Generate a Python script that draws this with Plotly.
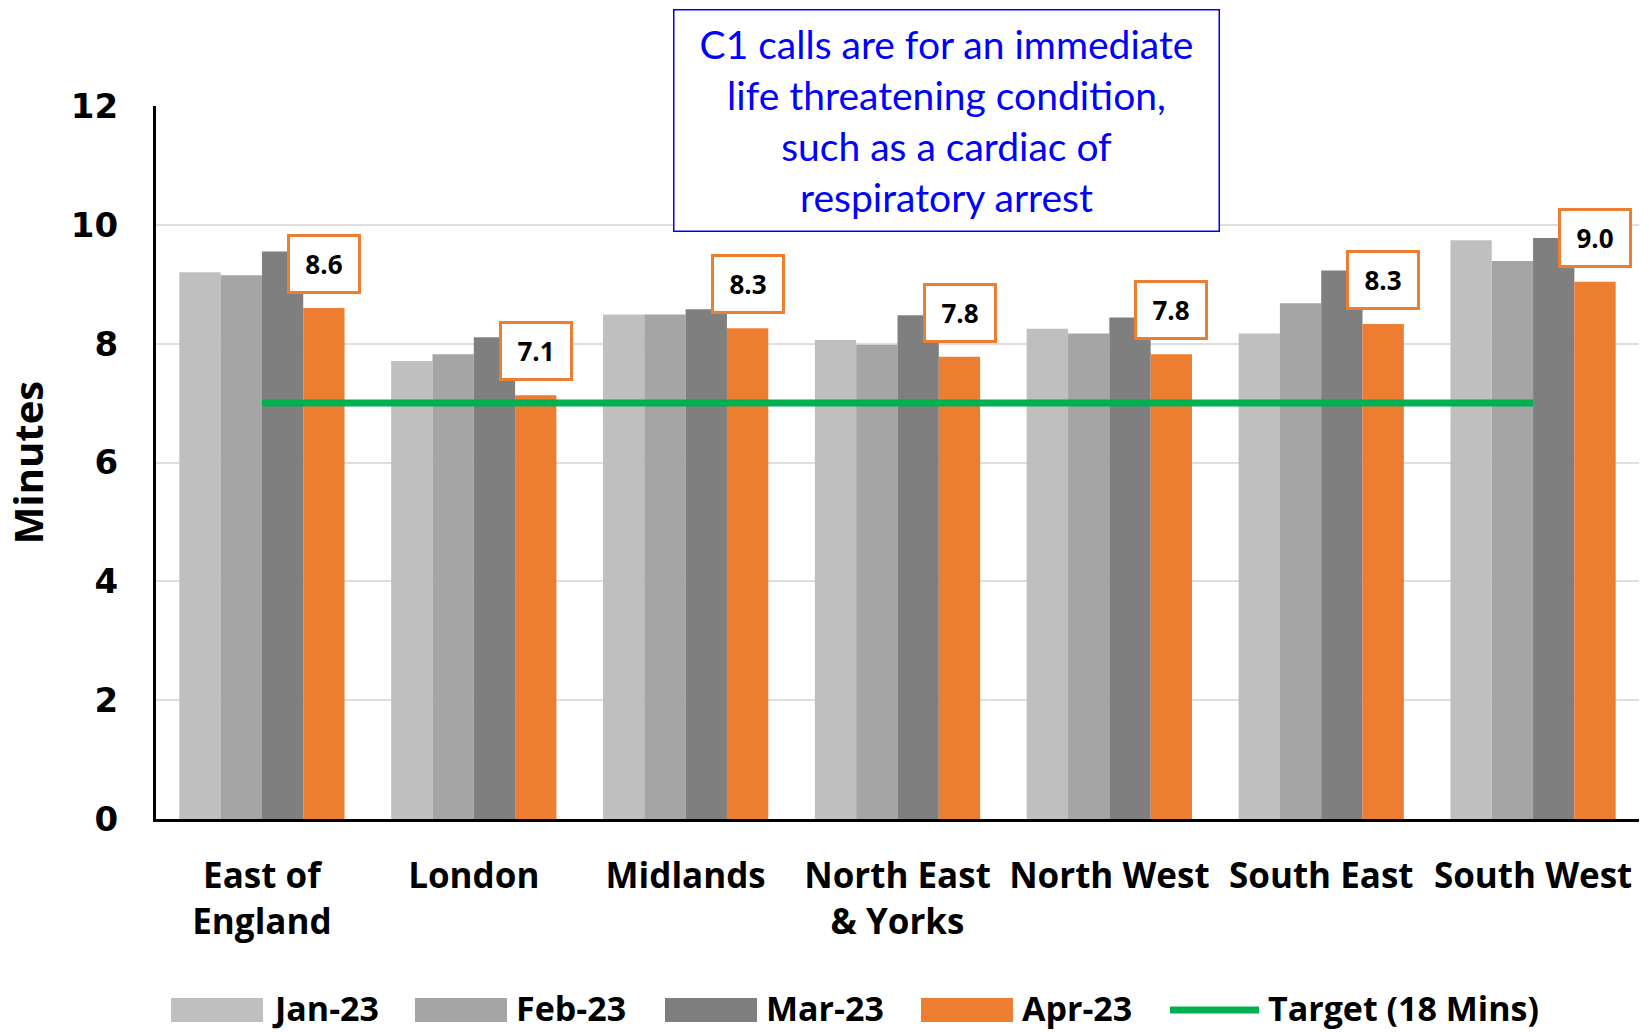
import plotly.graph_objects as go

# data
regions = ["East of<br>England", "London", "Midlands", "North East<br>& Yorks",
           "North West", "South East", "South West"]
jan_23 = [9.20, 7.71, 8.49, 8.06, 8.25, 8.17, 9.74]
feb_23 = [9.15, 7.82, 8.49, 7.98, 8.17, 8.68, 9.39]
mar_23 = [9.55, 8.11, 8.58, 8.48, 8.44, 9.23, 9.78]
apr_23 = [8.60, 7.13, 8.26, 7.78, 7.82, 8.33, 9.04]
target = [7, 7, 7, 7, 7, 7, 7]
y_ticks = [0, 2, 4, 6, 8, 10, 12]

series = [
    ("Jan-23", jan_23, "#BFBFBF"),
    ("Feb-23", feb_23, "#A5A5A5"),
    ("Mar-23", mar_23, "#7F7F7F"),
    ("Apr-23", apr_23, "#ED7D31"),
]

W, H = 1649, 1032
# plot area in pixels
X0, X1, Y0, Y1 = 156, 1639, 106, 819


def px(x):
    return (x - X0) / (X1 - X0)


def py(y):
    return (Y1 - y) / (Y1 - Y0)


fig = go.Figure()

for name, vals, color in series:
    fig.add_trace(go.Bar(x=regions, y=vals, name=name, marker_color=color,
                         marker_line_width=0, showlegend=False))

fig.add_trace(go.Scatter(x=regions, y=target, mode="lines", name="Target (18 Mins)",
                         line=dict(color="#00B050", width=7), showlegend=False))

# orange boxed labels on the Apr-23 bars
for r, v in zip(regions, apr_23):
    fig.add_annotation(x=r, y=v, xref="x", yref="y", text=f"<b>{v:.1f}</b>",
                       showarrow=False, xshift=62, yshift=44,
                       xanchor="center", yanchor="middle",
                       font=dict(family="Open Sans", size=26, color="black"),
                       bgcolor="white", bordercolor="#ED7D31", borderwidth=3,
                       borderpad=2, width=64, height=50)

# note box
fig.add_annotation(xref="paper", yref="paper", x=px(946), y=py(121),
                   xanchor="center", yanchor="middle",
                   text="C1 calls are for an immediate<br>life threatening condition,<br>"
                        "such as a cardiac of<br>respiratory arrest",
                   showarrow=False, font=dict(family="Lato", size=39, color="#0000FF"),
                   bgcolor="white", bordercolor="#0000FF", borderwidth=1.5,
                   width=542, height=218, align="center")

# custom legend to get the wide Excel-style swatches
legend_items = [
    ("Jan-23", "#BFBFBF", 171, "bar"),
    ("Feb-23", "#A5A5A5", 415, "bar"),
    ("Mar-23", "#7F7F7F", 665, "bar"),
    ("Apr-23", "#ED7D31", 921, "bar"),
    ("Target (18 Mins)", "#00B050", 1167, "line"),
]
ly = 1008
for name, color, lx, kind in legend_items:
    if kind == "bar":
        fig.add_shape(type="rect", xref="paper", yref="paper",
                      x0=px(lx), x1=px(lx + 92), y0=py(ly + 14), y1=py(ly - 10),
                      fillcolor=color, line_width=0)
    else:
        fig.add_shape(type="line", xref="paper", yref="paper",
                      x0=px(lx + 3), x1=px(lx + 92), y0=py(ly + 2), y1=py(ly + 2),
                      line=dict(color=color, width=7))
    fig.add_annotation(xref="paper", yref="paper", x=px(lx + 99), y=py(ly),
                       text=f"<b>{name}</b>", showarrow=False, xanchor="left",
                       yanchor="middle", font=dict(family="Open Sans", size=34, color="black"))

fig.update_layout(
    width=W, height=H,
    margin=dict(l=X0, r=W - X1, t=Y0, b=H - Y1),
    plot_bgcolor="white", paper_bgcolor="white",
    barmode="group", bargap=0.22, bargroupgap=0,
    showlegend=False,
    xaxis=dict(showline=True, linecolor="black", linewidth=3,
               tickfont=dict(family="Open Sans", size=35, color="black", weight="bold"),
               ticks="", ticklabelstandoff=24),
    yaxis=dict(range=[0, 12], tickvals=y_ticks, showgrid=True, gridcolor="#DEDEDE",
               gridwidth=2, showline=True, linecolor="black", linewidth=3,
               zeroline=False, ticks="", ticklabelstandoff=28,
               tickfont=dict(family="DejaVu Sans", size=34, color="black", weight="bold"),
               title=dict(text="<b>Minutes</b>", standoff=30,
                          font=dict(family="Open Sans", size=40, color="black"))),
)

# drop the default page margin so the figure sits at the window corner
fig.write_html("out.html", config={"displayModeBar": False},
               post_script="document.body.style.margin='0';")
